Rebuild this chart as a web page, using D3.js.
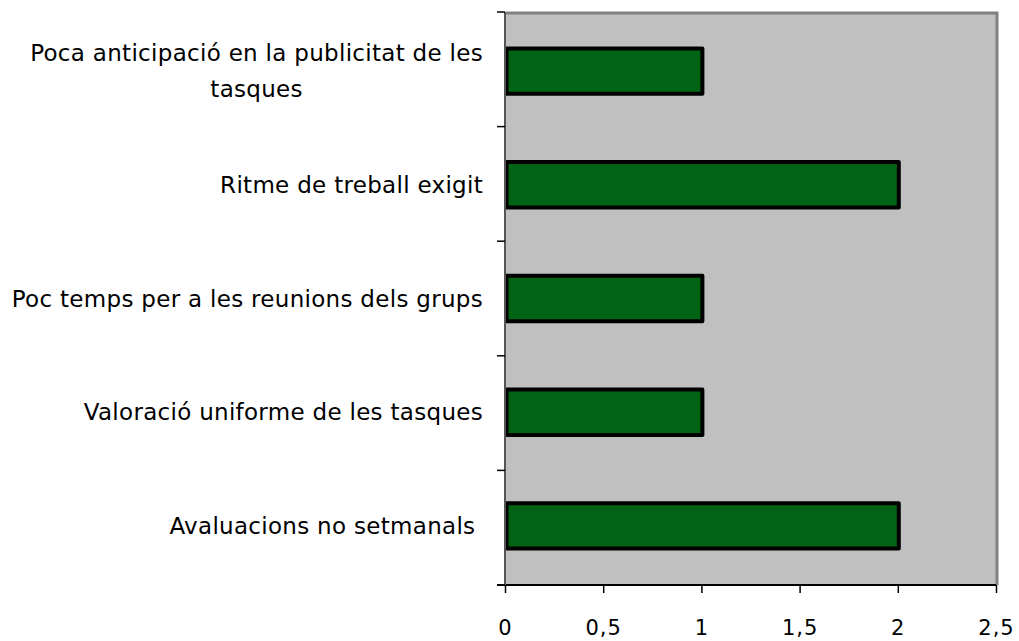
<!DOCTYPE html>
<html>
<head>
<meta charset="utf-8">
<script src="https://cdn.jsdelivr.net/npm/d3@7"></script>
<style>
  body { margin: 0; background: #fff; }
  svg { display: block; }
  text { font-family: "DejaVu Sans", Verdana, sans-serif; fill: #000; }
</style>
</head>
<body>
<svg id="chart" width="1019" height="641"></svg>
<script>
// categories top to bottom
const categories = [
	"Poca anticipació en la publicitat de les tasques",
	"Ritme de treball exigit",
	"Poc temps per a les reunions dels grups",
	"Valoració uniforme de les tasques",
	"Avaluacions no setmanals "
]
const values = [1, 2, 1, 1, 2]
const xTicks = [0, 0.5, 1, 1.5, 2, 2.5]

const margin = {top: 12, right: 23, bottom: 56, left: 505}
const width = 1019, height = 641
const plotWidth = width - margin.left - margin.right
const plotHeight = height - margin.top - margin.bottom

const svg = d3.select("#chart")
const plot = svg.append("g")
	.attr("transform", "translate(" + margin.left + "," + margin.top + ")")

const x = d3.scaleLinear().domain([0, 2.5]).range([0, plotWidth])
const y = d3.scaleBand().domain(categories).range([0, plotHeight]).paddingInner(0.6).paddingOuter(0.32)

// plot background with shadowed border
plot.append("rect")
	.attr("x", 0).attr("y", 0)
	.attr("width", plotWidth).attr("height", plotHeight)
	.attr("fill", "#c0c0c0")
plot.append("path")
	.attr("d", "M1," + 1 + "H" + (plotWidth + 1) + "V" + plotHeight)
	.attr("fill", "none").attr("stroke", "#808080").attr("stroke-width", 3)

// bars
plot.selectAll(".bar")
	.data(categories)
	.enter().append("rect")
	.attr("class", "bar")
	.attr("x", x(0) + 1.5)
	.attr("y", d => y(d))
	.attr("width", (d, i) => x(values[i]) - x(0) - 0.5)
	.attr("height", y.bandwidth())
	.attr("fill", "#006414")
	.attr("stroke", "#000")
	.attr("stroke-width", 4)
	.attr("stroke-linejoin", "round")

// x axis
const xAxis = plot.append("g")
	.attr("transform", "translate(0," + plotHeight + ")")
	.call(d3.axisBottom(x).tickValues(xTicks).tickSize(8).tickSizeOuter(0)
		.tickFormat(d => String(d).replace(".", ",")))
xAxis.select(".domain").attr("stroke", "#000").attr("stroke-width", 2)
	.attr("d", "M-8,0H" + plotWidth)
xAxis.selectAll(".tick line").attr("stroke", "#000").attr("stroke-width", 1.5)
xAxis.selectAll(".tick text")
	.attr("y", 35)
	.style("font-family", "'DejaVu Sans', Verdana, sans-serif")
	.style("font-size", "21px")
	.style("letter-spacing", "1px")

// y axis: category boundaries as ticks
const yAxisG = plot.append("g")
yAxisG.append("line")
	.attr("x1", 0).attr("x2", 0).attr("y1", 0).attr("y2", plotHeight)
	.attr("stroke", "#555").attr("stroke-width", 2)
const step = plotHeight / categories.length
yAxisG.selectAll(".ytick")
	.data(d3.range(categories.length + 1))
	.enter().append("line")
	.attr("x1", -8).attr("x2", 0)
	.attr("y1", d => d * step).attr("y2", d => d * step)
	.attr("stroke", "#000").attr("stroke-width", 1.5)

// category labels, wrapped; wrapped lines are centred in their block
const labelX = -22
const maxLabelWidth = 490
const lineHeight = 36
plot.selectAll(".label")
	.data(categories)
	.enter().append("text")
	.attr("class", "label")
	.style("font-size", "23px")
	.style("letter-spacing", "0.3px")
	.style("white-space", "pre")
	.each(function(d) {
		const t = d3.select(this)
		const words = d.split(" ")
		const lines = []
		let cur = ""
		let blockWidth = 0
		const probe = t.append("tspan")
		const measure = s => { probe.text(s); return probe.node().getComputedTextLength() }
		words.forEach(w => {
			const test = cur ? cur + " " + w : w
			if (measure(test) > maxLabelWidth && cur) {
				lines.push(cur)
				cur = w
			} else cur = test
		})
		lines.push(cur)
		lines.forEach(ln => { blockWidth = Math.max(blockWidth, measure(ln)) })
		probe.remove()
		const multi = lines.length > 1
		t.attr("text-anchor", multi ? "middle" : "end")
		const tx = multi ? labelX - blockWidth / 2 : labelX
		const cy = y(d) + y.bandwidth() / 2
		const y0 = cy - (lines.length - 1) * lineHeight / 2
		lines.forEach((ln, i) => {
			t.append("tspan")
				.attr("x", tx)
				.attr("y", y0 + i * lineHeight)
				.attr("dy", "0.35em")
				.text(ln)
		})
	})
</script>
</body>
</html>
